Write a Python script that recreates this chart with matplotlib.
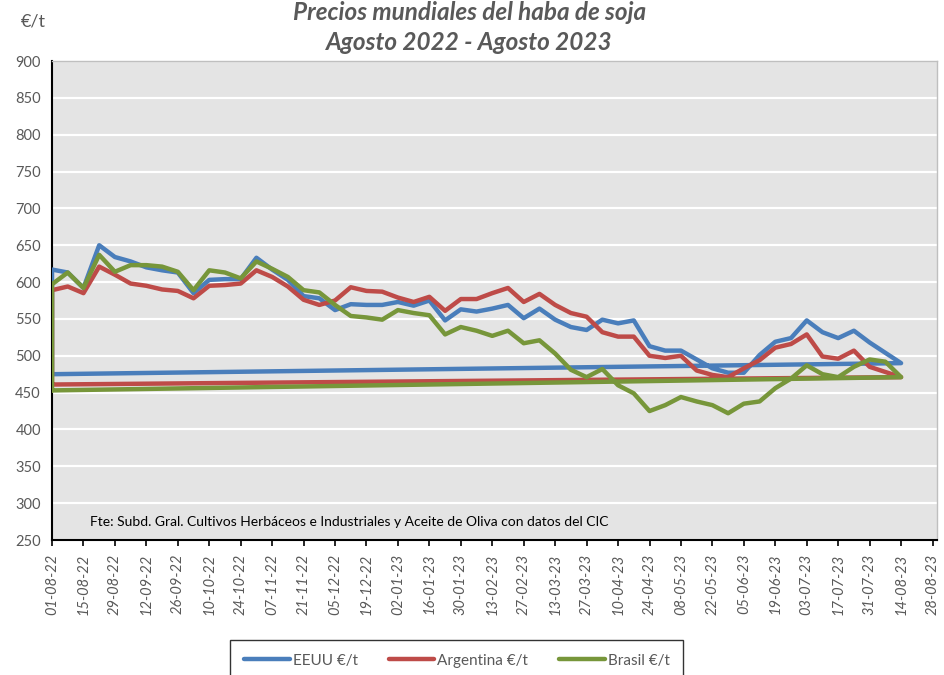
#!/usr/bin/env python
"""Precios mundiales del haba de soja, agosto 2022 - agosto 2023 (€/t, semanal)."""
import datetime as dt

import matplotlib
matplotlib.use("Agg")
import matplotlib.dates as mdates
import matplotlib.pyplot as plt

plt.rcParams["font.family"] = ["Lato", "DejaVu Sans"]

START = dt.date(2022, 8, 1)
N_WEEKS = 55
dates = [START + dt.timedelta(weeks=i) for i in range(N_WEEKS)]

eeuu = [617, 613, 592, 650, 634, 628, 620, 616, 613, 585, 603, 604, 604, 633, 617,
        603, 581, 578, 562, 570, 569, 569, 573, 568, 575, 548, 563, 560, 564, 569,
        551, 564, 549, 539, 535, 549, 544, 548, 513, 507, 507, 495, 483, 477, 477,
        501, 519, 524, 548, 532, 524, 534, 518, 504, 490]
argentina = [589, 594, 585, 621, 610, 598, 595, 590, 588, 578, 595, 596, 598, 616, 607,
             594, 576, 569, 575, 593, 588, 587, 579, 573, 580, 561, 577, 577, 585, 592,
             573, 584, 569, 558, 553, 532, 526, 526, 500, 497, 500, 480, 474, 471, 483,
             494, 511, 516, 529, 499, 496, 507, 485, 478, 471]
brasil = [597, 613, 592, 637, 614, 623, 623, 621, 614, 589, 616, 613, 605, 628, 618,
          607, 589, 586, 569, 554, 552, 549, 562, 558, 555, 529, 539, 534, 527, 534,
          517, 521, 503, 481, 471, 482, 460, 449, 425, 433, 444, 438, 433, 422, 435,
          438, 456, 469, 487, 475, 471, 485, 495, 492, 471]

# stray first-row values in the source sheet (drawn as a closing segment)
stray = {"EEUU": 475, "Argentina": 461, "Brasil": 453}

SERIES = [
    ("EEUU", eeuu, "#4A7EBB"),
    ("Argentina", argentina, "#BE4B48"),
    ("Brasil", brasil, "#77963A"),
]
GRAY = "#595959"


def main():
    fig = plt.figure(figsize=(9.44, 6.75), dpi=100)
    ax = fig.add_axes([0.0551, 0.2, 0.9375, 0.7096])
    ax.set_facecolor("#E4E4E4")

    for name, vals, color in SERIES:
        x = [START] + dates + [START]
        y = [stray[name]] + vals + [stray[name]]
        ax.plot(x, y, color=color, lw=3.2, solid_joinstyle="round",
                solid_capstyle="round", label=f"{name} €/t", zorder=3)

    ax.set_ylim(250, 900)
    ax.set_yticks(range(250, 901, 50))
    ticks = [START + dt.timedelta(days=14 * i) for i in range(29)]
    ax.set_xticks(ticks)
    ax.xaxis.set_major_formatter(mdates.DateFormatter("%d-%m-%y"))
    ax.set_xlim(mdates.date2num(START), mdates.date2num(dt.date(2023, 8, 30)))

    ax.grid(True, axis="y", color="white", lw=1.6, zorder=1)
    ax.set_axisbelow(True)
    for lab in ax.get_xticklabels():
        lab.set_rotation(90)
        lab.set_fontstyle("italic")
    ax.tick_params(axis="x", labelsize=10.5, colors=GRAY, length=4, width=1.2,
                   direction="out", pad=6)
    ax.tick_params(axis="x", color="black")
    ax.tick_params(axis="y", labelsize=10.5, colors=GRAY, length=0, pad=8)
    for side in ("left", "bottom"):
        ax.spines[side].set_color("black")
        ax.spines[side].set_linewidth(1.5)
    for side in ("top", "right"):
        ax.spines[side].set_color("#BFBFBF")
        ax.spines[side].set_linewidth(1.0)

    ax.text(0.043, 0.038, "Fte: Subd. Gral. Cultivos Herbáceos e Industriales y Aceite de Oliva con datos del CIC",
            transform=ax.transAxes, fontsize=10, color="black", ha="left", va="center")

    fig.text(0.497, 0.982, "Precios mundiales del haba de soja", ha="center", va="center",
             fontsize=17.5, fontweight="bold", fontstyle="italic", color=GRAY)
    fig.text(0.497, 0.937, "Agosto 2022 - Agosto 2023", ha="center", va="center",
             fontsize=17.5, fontweight="bold", fontstyle="italic", color=GRAY)
    fig.text(0.022, 0.968, "€/t", ha="left", va="center", fontsize=13, color=GRAY)

    leg = fig.legend(loc="upper center", bbox_to_anchor=(0.484, 0.052), ncol=3,
                     fontsize=11, frameon=True, fancybox=False, handlelength=3.0,
                     columnspacing=2.0, handletextpad=0.2, borderpad=0.9,
                     borderaxespad=0)
    leg.get_frame().set_edgecolor("black")
    leg.get_frame().set_linewidth(1.0)
    for t in leg.get_texts():
        t.set_color(GRAY)

    fig.savefig("out.png", dpi=100)


if __name__ == "__main__":
    main()
